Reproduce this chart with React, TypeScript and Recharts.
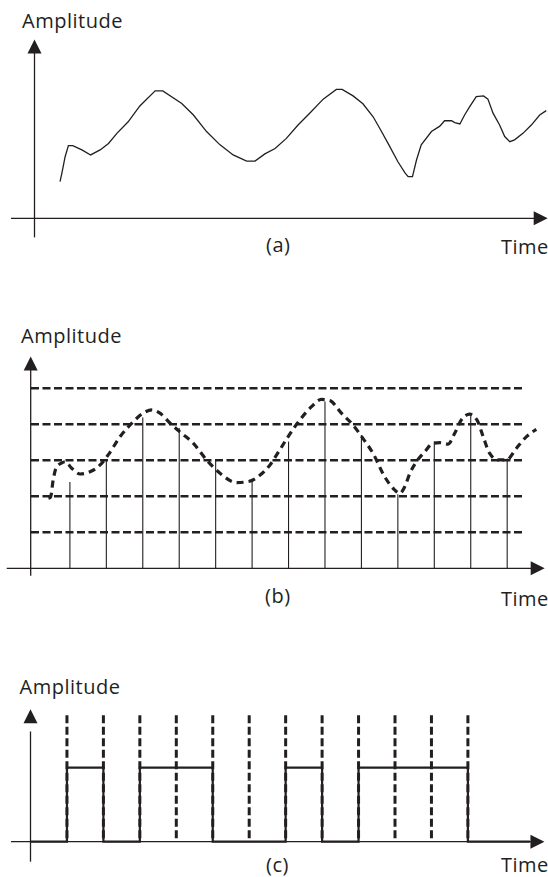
import { ComposedChart, Line, ReferenceLine, Scatter, XAxis, YAxis } from "recharts"

const INK = "#231f20"
const FONT = "'Open Sans', 'Noto Sans', sans-serif"
const W = 548

// (a) analog signal: time in sample periods, amplitude in quantisation steps
const analogTime = [
  0.7, 0.75, 0.84, 0.93, 1.05, 1.3, 1.54, 1.8, 2.03, 2.26, 2.57, 2.89, 3.31, 3.52, 4.04, 4.36, 4.72, 5.09, 5.45, 5.82,
  6.05, 6.32, 6.6, 6.91, 7.23, 7.55, 7.92, 8.28, 8.44, 8.74, 9.01, 9.29, 9.47, 9.7, 9.97, 10.16, 10.25, 10.37, 10.48,
  10.61, 10.89, 11.12, 11.25, 11.44, 11.53, 11.67, 11.8, 11.94, 12.12, 12.32, 12.44, 12.58, 12.76, 12.9, 13.04, 13.17,
  13.4, 13.63, 13.86, 14.04,
]
const analogValue = [
  1.02, 1.25, 1.71, 2.02, 2.02, 1.9, 1.76, 1.9, 2.08, 2.36, 2.68, 3.12, 3.54, 3.54, 3.19, 2.87, 2.41, 2.04, 1.76, 1.59,
  1.59, 1.79, 1.94, 2.22, 2.59, 2.92, 3.31, 3.58, 3.58, 3.4, 3.18, 2.82, 2.5, 2.08, 1.57, 1.27, 1.16, 1.16, 1.62, 2.04,
  2.41, 2.56, 2.71, 2.71, 2.66, 2.62, 2.87, 3.1, 3.38, 3.4, 3.31, 2.92, 2.59, 2.27, 2.13, 2.18, 2.36, 2.59, 2.87, 2.99,
]

// (b) same signal, sampled and compared with quantisation levels
const sampledCurveTime = [
  0.41, 0.47, 0.54, 0.62, 0.78, 0.87, 1.05, 1.28, 1.55, 1.83, 2.05, 2.38, 2.7, 3.01, 3.25, 3.47, 3.75, 4.02, 4.39, 4.75,
  5.12, 5.58, 5.9, 6.22, 6.49, 6.76, 6.99, 7.31, 7.63, 7.9, 8.13, 8.45, 8.77, 9.04, 9.32, 9.64, 9.91, 10.05, 10.19,
  10.33, 10.51, 10.74, 10.96, 11.15, 11.38, 11.56, 11.74, 11.97, 12.17, 12.34, 12.52, 12.75, 12.98, 13.25, 13.53, 13.8,
]
const sampledCurveValue = [
  1.95, 1.98, 2.45, 2.78, 2.93, 2.96, 2.78, 2.62, 2.68, 2.87, 3.15, 3.66, 4.03, 4.31, 4.4, 4.31, 4.03, 3.79, 3.47, 3.01,
  2.64, 2.38, 2.41, 2.59, 2.87, 3.29, 3.66, 4.12, 4.49, 4.69, 4.66, 4.31, 3.98, 3.61, 3.19, 2.54, 2.18, 2.08, 2.27,
  2.64, 2.96, 3.24, 3.47, 3.49, 3.45, 3.75, 4.12, 4.28, 4.12, 3.66, 3.19, 3.01, 3.01, 3.33, 3.66, 3.86,
]
const sampleTimes = [1, 2, 3, 4, 5, 6, 7, 8, 9, 10, 11, 12, 13]
const sampleValues = [2.4, 3.0, 4.19, 3.9, 3.0, 2.4, 3.52, 4.63, 3.7, 2.06, 3.52, 4.3, 3.05]
const quantLevels = [1, 2, 3, 4, 5]

// (c) digital output
const clockTimes = [1, 2, 3, 4, 5, 6, 7, 8, 9, 10, 11, 12]
const bits = [1, 0, 1, 1, 0, 0, 1, 0, 1, 1, 1]
const signalEnd = 13.7

const toPoints = (ts: number[], vs: number[]) => ts.map((t, i) => ({ t, v: vs[i] }))

const analogData = toPoints(analogTime, analogValue)
const sampledCurveData = toPoints(sampledCurveTime, sampledCurveValue)
const digitalData = [
  { t: 0, v: 0 },
  ...bits.map((b, i) => ({ t: clockTimes[i], v: b })),
  { t: clockTimes[clockTimes.length - 1], v: 0 },
  { t: signalEnd, v: 0 },
]

const ArrowRight = (p: any) => (
  <polygon points={`${p.cx},${p.cy} ${p.cx - 14},${p.cy - 7} ${p.cx - 14},${p.cy + 7}`} fill={INK} />
)
const ArrowUp = (p: any) => (
  <polygon points={`${p.cx},${p.cy} ${p.cx - 7},${p.cy + 14} ${p.cx + 7},${p.cy + 14}`} fill={INK} />
)

type PanelProps = {
  top: number
  height: number
  originX: number
  originY: number
  stepX: number
  stepY: number
  axisT: number
  xFrom: number
  xTip: number
  yFrom: number
  yTip: number
  children?: React.ReactNode
}

function Panel({ top, height, originX, originY, stepX, stepY, axisT, xFrom, xTip, yFrom, yTip, children }: PanelProps) {
  const xDomain = [-originX / stepX, (W - originX) / stepX]
  const yDomain = [(originY - height) / stepY, originY / stepY]
  return (
    <div style={{ position: "absolute", left: 0, top }}>
      <ComposedChart width={W} height={height} margin={{ top: 0, right: 0, bottom: 0, left: 0 }}>
        <XAxis type="number" dataKey="t" domain={xDomain} hide allowDataOverflow />
        <YAxis type="number" dataKey="v" domain={yDomain} hide allowDataOverflow />
        <ReferenceLine
          segment={[{ x: xFrom, y: 0 }, { x: xTip - 0.3, y: 0 }]}
          stroke={INK}
          strokeWidth={1.3}
          ifOverflow="visible"
        />
        <ReferenceLine
          segment={[{ x: axisT, y: yFrom }, { x: axisT, y: yTip - 0.3 }]}
          stroke={INK}
          strokeWidth={1.3}
          ifOverflow="visible"
        />
        {children}
        <Scatter data={[{ t: xTip, v: 0 }]} shape={ArrowRight} isAnimationActive={false} />
        <Scatter data={[{ t: axisT, v: yTip }]} shape={ArrowUp} isAnimationActive={false} />
      </ComposedChart>
    </div>
  )
}

const labels = [
  { text: "Amplitude", x: 22, y: 27.5 },
  { text: "(a)", x: 266, y: 252 },
  { text: "Time", x: 501, y: 254 },
  { text: "Amplitude", x: 21, y: 343 },
  { text: "(b)", x: 265, y: 603 },
  { text: "Time", x: 501, y: 606 },
  { text: "Amplitude", x: 19.5, y: 694 },
  { text: "(c)", x: 266, y: 872 },
  { text: "Time", x: 501, y: 871.5 },
]

export default function App() {
  return (
    <div style={{ position: "absolute", left: 0, top: 0, width: W, height: 877, background: "#fff" }}>
      <Panel
        top={0}
        height={240}
        originX={34.5}
        originY={218.3}
        stepX={36.45}
        stepY={36}
        axisT={0}
        xFrom={-0.645}
        xTip={14.08}
        yFrom={-0.53}
        yTip={4.97}
      >
        <Line
          data={analogData}
          dataKey="v"
          type="linear"
          stroke={INK}
          strokeWidth={1.3}
          dot={false}
          isAnimationActive={false}
        />
      </Panel>

      <Panel
        top={340}
        height={240}
        originX={33.46}
        originY={228.3}
        stepX={36.44}
        stepY={36}
        axisT={-0.076}
        xFrom={-0.734}
        xTip={14.03}
        yFrom={-0.21}
        yTip={5.88}
      >
        {quantLevels.map((lv) => (
          <ReferenceLine
            key={`q-${lv}`}
            segment={[{ x: -0.068, y: lv }, { x: 13.49, y: lv }]}
            stroke={INK}
            strokeWidth={2.5}
            strokeDasharray="8 3.5"
            ifOverflow="visible"
          />
        ))}
        {sampleTimes.map((t, i) => (
          <ReferenceLine
            key={`s-${t}`}
            segment={[{ x: t, y: 0 }, { x: t, y: sampleValues[i] }]}
            stroke={INK}
            strokeWidth={1.1}
            ifOverflow="visible"
          />
        ))}
        <Line
          data={sampledCurveData}
          dataKey="v"
          type="monotone"
          stroke={INK}
          strokeWidth={3.2}
          strokeDasharray="7 5"
          dot={false}
          isAnimationActive={false}
        />
      </Panel>

      <Panel
        top={700}
        height={170}
        originX={30.5}
        originY={141.7}
        stepX={36.45}
        stepY={74}
        axisT={0}
        xFrom={-0.535}
        xTip={14.1}
        yFrom={-0.27}
        yTip={1.79}
      >
        {clockTimes.map((t) => (
          <ReferenceLine
            key={`c-${t}`}
            segment={[{ x: t, y: 1.71 }, { x: t, y: 0 }]}
            stroke={INK}
            strokeWidth={3}
            strokeDasharray="8 3.5"
            ifOverflow="visible"
          />
        ))}
        <Line
          data={digitalData}
          dataKey="v"
          type="stepAfter"
          stroke={INK}
          strokeWidth={2.2}
          dot={false}
          isAnimationActive={false}
        />
      </Panel>

      <svg width={W} height={877} style={{ position: "absolute", left: 0, top: 0, pointerEvents: "none" }}>
        {labels.map((l, i) => (
          <text key={i} x={l.x} y={l.y} fontFamily={FONT} fontSize={20} letterSpacing={0.5} fill={INK}>
            {l.text}
          </text>
        ))}
      </svg>
    </div>
  )
}
